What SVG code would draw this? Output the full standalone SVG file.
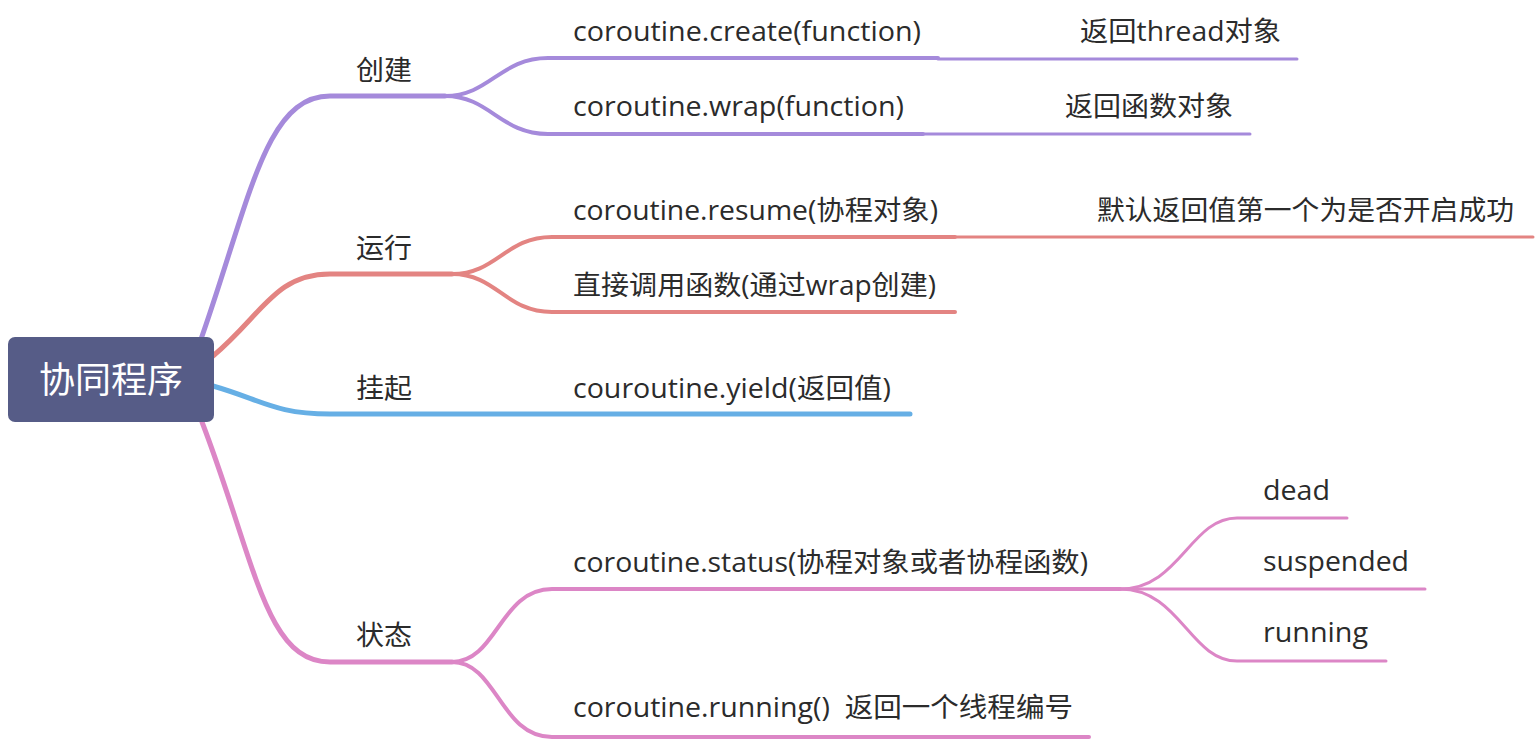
<svg xmlns="http://www.w3.org/2000/svg" width="1540" height="740" viewBox="0 0 1540 740">
<style>
.t{font-family:"Open Sans","Noto Sans CJK SC",sans-serif;font-size:27px;fill:#2b2b2b}
.c{font-family:"Noto Sans CJK SC",sans-serif;font-size:27px;fill:#2b2b2b}
.br{fill:none;stroke-linecap:round;stroke-width:5}
.sub{fill:none;stroke-linecap:round;stroke-width:4}
.thin{fill:none;stroke-linecap:round;stroke-width:3}
.pu{stroke:#A58ADB}.rd{stroke:#E38482}.bl{stroke:#66AFE5}.pk{stroke:#DC86C6}
</style>
<rect width="1540" height="740" fill="#ffffff"/>
<g id="connectors">
<path class="br pu" d="M200 342 C250 200 265 96 330 96 L445 96"/>
<path class="sub pu" d="M445 96 C490 96 500 58 548 58 L938 58"/>
<path class="thin pu" d="M938 59 L1297 59"/>
<path class="sub pu" d="M445 96 C490 96 500 134 548 134 L923 134"/>
<path class="thin pu" d="M923 134 L1250 134"/>
<path class="br rd" d="M213 356 C262 315 275 274 330 274 L452 274"/>
<path class="sub rd" d="M452 274 C497 274 505 237 552 237 L955 237"/>
<path class="thin rd" d="M955 237 L1533 237"/>
<path class="sub rd" d="M452 274 C497 274 505 312 552 312 L955 312"/>
<path class="br bl" d="M213 386 C262 400 275 414 330 414 L910 414"/>
<path class="br pk" d="M202 422 C255 560 265 662 330 662 L452 662"/>
<path class="sub pk" d="M452 662 C497 662 500 589 552 589 L1120 589"/>
<path class="sub pk" d="M452 662 C497 662 500 737 552 737 L1089 737"/>
<path class="thin pk" d="M1120 589 C1180 589 1190 518 1237 518 L1347 518"/>
<path class="thin pk" d="M1120 589 L1425 589"/>
<path class="thin pk" d="M1120 589 C1180 589 1190 661 1237 661 L1386 661"/>
</g>
<g id="root">
<rect x="8" y="337" width="206" height="85" rx="7" fill="#565C87"/>
<text x="111" y="393" text-anchor="middle" font-family="Noto Sans CJK SC,sans-serif" font-size="36" fill="#ffffff">协同程序</text>
</g>
<g id="n-create"><text class="c" x="356" y="80" textLength="56" lengthAdjust="spacingAndGlyphs">创建</text></g>
<g id="n-run"><text class="c" x="356" y="258" textLength="56" lengthAdjust="spacingAndGlyphs">运行</text></g>
<g id="n-yield"><text class="c" x="356" y="398" textLength="56" lengthAdjust="spacingAndGlyphs">挂起</text></g>
<g id="n-status"><text class="c" x="356" y="645" textLength="56" lengthAdjust="spacingAndGlyphs">状态</text></g>
<g id="n-create-fn"><text class="t" x="573" y="41" textLength="348" lengthAdjust="spacingAndGlyphs">coroutine.create(function)</text></g>
<g id="n-create-ret"><text class="t" x="1080" y="41" textLength="201" lengthAdjust="spacingAndGlyphs">返回thread对象</text></g>
<g id="n-wrap-fn"><text class="t" x="573" y="116" textLength="331" lengthAdjust="spacingAndGlyphs">coroutine.wrap(function)</text></g>
<g id="n-wrap-ret"><text class="t" x="1065" y="116" textLength="168" lengthAdjust="spacingAndGlyphs">返回函数对象</text></g>
<g id="n-resume"><text class="t" x="573" y="220" textLength="365" lengthAdjust="spacingAndGlyphs">coroutine.resume(协程对象)</text></g>
<g id="n-resume-ret"><text class="t" x="1097" y="220" textLength="417" lengthAdjust="spacingAndGlyphs">默认返回值第一个为是否开启成功</text></g>
<g id="n-call"><text class="t" x="573" y="295" textLength="363" lengthAdjust="spacingAndGlyphs">直接调用函数(通过wrap创建)</text></g>
<g id="n-yield-fn"><text class="t" x="573" y="398" textLength="318" lengthAdjust="spacingAndGlyphs">couroutine.yield(返回值)</text></g>
<g id="n-status-fn"><text class="t" x="573" y="572" textLength="515" lengthAdjust="spacingAndGlyphs">coroutine.status(协程对象或者协程函数)</text></g>
<g id="n-dead"><text class="t" x="1263" y="500" textLength="67" lengthAdjust="spacingAndGlyphs">dead</text></g>
<g id="n-suspended"><text class="t" x="1263" y="571" textLength="146" lengthAdjust="spacingAndGlyphs">suspended</text></g>
<g id="n-running-st"><text class="t" x="1263" y="642" textLength="105" lengthAdjust="spacingAndGlyphs">running</text></g>
<g id="n-running-fn"><text class="t" x="573" y="717" xml:space="preserve" textLength="500" lengthAdjust="spacingAndGlyphs">coroutine.running()  返回一个线程编号</text></g>
</svg>
